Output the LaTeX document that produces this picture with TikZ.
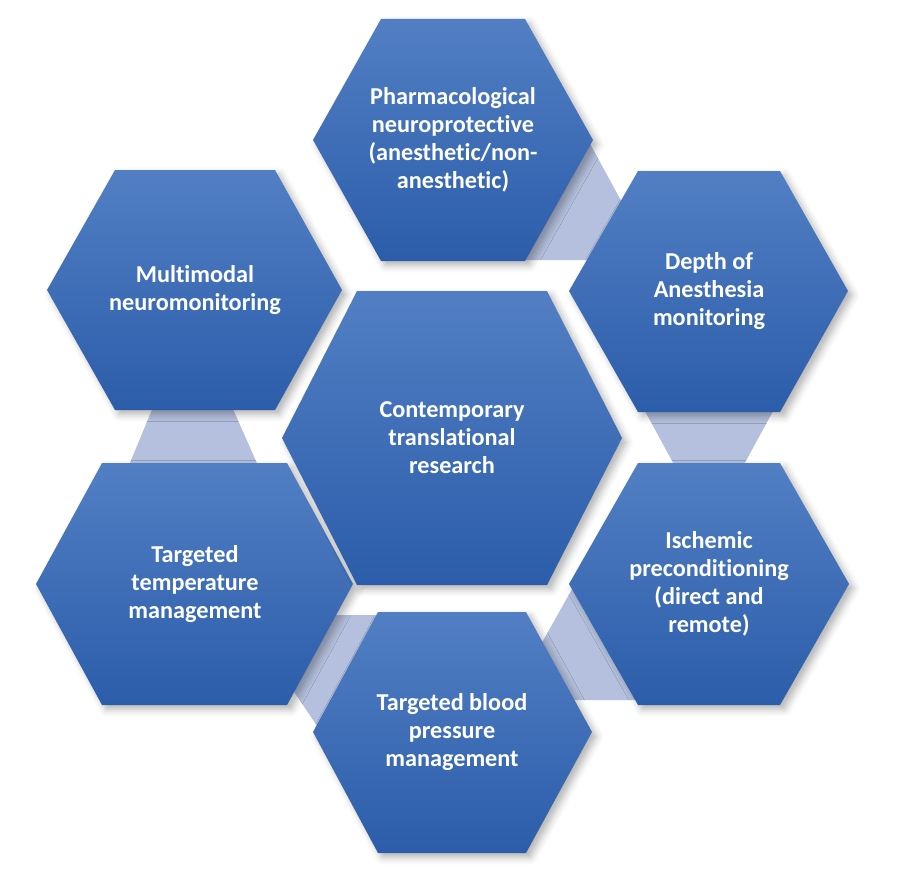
\documentclass[tikz,border=0pt]{standalone}
\usepackage{fontspec}
\setmainfont[Ligatures=NoCommon]{Carlito}
\usetikzlibrary{shadows.blur}
\definecolor{hexTop}{HTML}{527FC4}
\definecolor{hexBottom}{HTML}{2C5DAA}
\definecolor{bandBlue}{HTML}{B4C0DD}

\begin{document}
\begin{tikzpicture}[
    x=0.02cm, y=-0.02cm,
    font=\fontsize{13.8}{16}\selectfont\bfseries,
    hexcell/.style={top color=hexTop, bottom color=hexBottom, draw=none,
        blur shadow={shadow xshift=2.5pt, shadow yshift=-2.5pt,
                     shadow blur radius=4pt, shadow opacity=30}},
    band/.style={fill=bandBlue, draw=none},
    hexlabel/.style={text=white, align=center},
]
\useasboundingbox (0,0) rectangle (908,882);

% Light bands between neighbouring cells
\path[band] (588,140) -- (625,208) -- (605,260) -- (520,260) -- cycle;
\path[band] (640,402) -- (778,402) -- (741,470) -- (677,470) -- cycle;
\path[band] (535,655) -- (576,582) -- (640,600) -- (645,700) -- (565,700) -- cycle;
\path[band] (330,615) -- (395,615) -- (330,745) -- (286,680) -- cycle;
\path[band] (156,400) -- (229,400) -- (260,470) -- (127,470) -- cycle;

% Outer cells
\path[hexcell] (313,140) -- (381,19) -- (525,19) -- (593,140) -- (525,261) -- (381,261) -- cycle;
\node[hexlabel] (pharma) at (453,140) {Pharmacological\\neuroprotective\\(anesthetic/non-\\anesthetic)};

\path[hexcell] (569,291) -- (638,171) -- (780,171) -- (848,291) -- (780,412) -- (638,412) -- cycle;
\node[hexlabel] (depth) at (709,291) {Depth of\\Anesthesia\\monitoring};

\path[hexcell] (569,584) -- (638,463) -- (780,463) -- (849,584) -- (780,705) -- (638,705) -- cycle;
\node[hexlabel] (ischemic) at (709,584) {Ischemic\\preconditioning\\(direct and\\remote)};

\path[hexcell] (313,732) -- (378,612) -- (526,612) -- (592,732) -- (526,853) -- (378,853) -- cycle;
\node[hexlabel] (blood) at (452,732) {Targeted blood\\pressure\\management};

\path[hexcell] (36,584) -- (102,463) -- (287,463) -- (353,584) -- (287,705) -- (102,705) -- cycle;
\node[hexlabel] (temp) at (195,584) {Targeted\\temperature\\management};

\path[hexcell] (47,290) -- (115,170) -- (275,170) -- (342,290) -- (275,410) -- (115,410) -- cycle;
\node[hexlabel] (multi) at (195,290) {Multimodal\\neuromonitoring};

% Central cell
\path[hexcell] (282,438) -- (357,291) -- (547,291) -- (622,438) -- (547,585) -- (357,585) -- cycle;
\node[hexlabel] (research) at (452,438) {Contemporary\\translational\\research};

\end{tikzpicture}
\end{document}
